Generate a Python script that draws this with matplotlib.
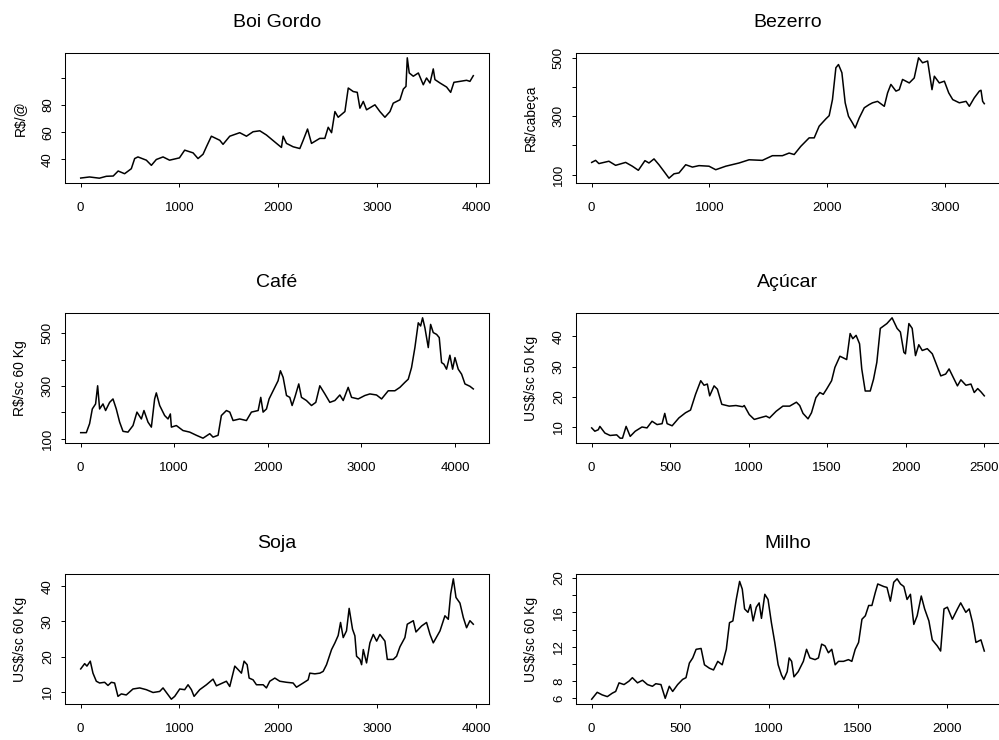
import matplotlib
matplotlib.use("Agg")
import matplotlib.pyplot as plt

plt.rcParams['font.family'] = ['Liberation Sans', 'DejaVu Sans']

# Daily price series (observation index, price)
boi_x = [1, 90, 190, 260, 330, 380, 445, 513, 547, 580, 665, 716, 766, 834, 900, 1000, 1053, 1138, 1188, 1239,
         1273, 1323, 1408, 1441, 1509, 1610, 1678, 1745, 1813, 1880, 1982, 2032, 2049, 2083, 2150, 2218, 2252,
         2296, 2336, 2420, 2471, 2505, 2539, 2573, 2606, 2674, 2708, 2758, 2799, 2826, 2860, 2893, 2978, 3028,
         3079, 3130, 3163, 3231, 3265, 3292, 3305, 3325, 3366, 3417, 3467, 3500, 3535, 3568, 3585, 3636, 3703,
         3744, 3777, 3838, 3905, 3939, 3973]
boi_y = [26.1, 26.9, 26.0, 27.4, 27.6, 31.3, 29.3, 33.0, 40.5, 41.7, 39.3, 35.5, 39.8, 41.7, 39.3, 41.0, 46.7,
         44.7, 40.5, 43.7, 49.2, 57.0, 54.0, 51.0, 57.0, 59.6, 57.0, 60.3, 61.0, 57.9, 51.7, 48.7, 57.0, 51.7,
         49.2, 47.9, 54.0, 62.3, 51.7, 55.4, 55.4, 63.6, 59.6, 75.2, 71.0, 75.2, 92.6, 90.0, 89.4, 77.7, 82.7,
         76.5, 80.2, 75.2, 71.0, 75.2, 81.4, 83.9, 91.8, 93.8, 114.9, 103.7, 101.3, 103.7, 95.0, 100.0, 96.3,
         106.7, 98.8, 96.3, 93.3, 89.4, 96.8, 97.5, 98.3, 97.5, 101.7]

bez_x = [1, 34, 62, 147, 204, 289, 346, 397, 453, 487, 530, 572, 615, 657, 700, 742, 799, 856, 912, 997, 1054,
         1139, 1252, 1337, 1450, 1535, 1620, 1677, 1720, 1776, 1847, 1890, 1932, 1989, 2017, 2045, 2074, 2096,
         2125, 2153, 2181, 2215, 2238, 2272, 2315, 2357, 2385, 2428, 2485, 2513, 2541, 2584, 2612, 2640, 2697,
         2739, 2776, 2810, 2853, 2890, 2910, 2952, 2995, 3032, 3066, 3122, 3179, 3207, 3249, 3292, 3306, 3320,
         3334]
bez_y = [142, 149, 138, 146, 132, 142, 129, 115, 148, 140, 154, 134, 111, 88, 103, 106, 134, 126, 131, 129,
         117, 129, 140, 151, 149, 165, 165, 174, 169, 197, 226, 226, 266, 291, 302, 357, 466, 477, 449, 346,
         300, 277, 260, 294, 329, 340, 346, 351, 334, 380, 409, 386, 391, 426, 414, 431, 500, 483, 489, 391,
         437, 414, 420, 380, 357, 346, 351, 334, 363, 386, 389, 351, 343]

cafe_x = [1, 61, 96, 125, 160, 182, 203, 239, 267, 310, 346, 381, 417, 453, 506, 560, 602, 649, 677, 720, 756,
          791, 809, 845, 898, 934, 959, 970, 1023, 1094, 1166, 1237, 1308, 1380, 1415, 1469, 1504, 1558, 1594,
          1629, 1700, 1772, 1825, 1897, 1925, 1950, 1986, 2014, 2057, 2110, 2135, 2164, 2200, 2235, 2260, 2289,
          2331, 2360, 2413, 2467, 2513, 2556, 2610, 2663, 2717, 2770, 2806, 2859, 2895, 2966, 3037, 3091, 3162,
          3216, 3287, 3358, 3412, 3465, 3501, 3536, 3572, 3608, 3633, 3654, 3679, 3715, 3740, 3768, 3804, 3832,
          3857, 3882, 3910, 3946, 3975, 4000, 4035, 4071, 4107, 4160, 4196]
cafe_y = [123, 123, 157, 213, 232, 301, 213, 232, 207, 238, 251, 213, 163, 128, 125, 150, 201, 175, 207, 163,
          144, 251, 274, 226, 188, 175, 194, 144, 150, 131, 125, 113, 102, 119, 106, 113, 188, 207, 201, 169,
          175, 169, 201, 207, 257, 201, 213, 251, 282, 320, 358, 333, 264, 257, 226, 257, 308, 257, 245, 226,
          238, 301, 270, 238, 245, 266, 245, 295, 257, 251, 264, 270, 266, 251, 282, 282, 295, 314, 326, 370,
          446, 540, 528, 559, 521, 446, 534, 503, 496, 484, 389, 383, 364, 417, 364, 408, 364, 345, 308, 299,
          289]

acu_x = [1, 21, 43, 53, 85, 118, 160, 182, 197, 220, 246, 278, 321, 353, 385, 417, 449, 466, 481, 513, 556,
         598, 630, 662, 695, 716, 737, 752, 780, 801, 829, 876, 919, 962, 972, 1004, 1036, 1069, 1111, 1133,
         1175, 1218, 1261, 1304, 1325, 1346, 1378, 1400, 1428, 1453, 1475, 1496, 1528, 1549, 1581, 1624, 1646,
         1663, 1684, 1706, 1720, 1742, 1774, 1795, 1816, 1838, 1880, 1913, 1945, 1966, 1988, 1998, 2020, 2041,
         2062, 2083, 2105, 2137, 2169, 2190, 2223, 2254, 2276, 2308, 2329, 2351, 2383, 2415, 2436, 2458, 2479,
         2500]
acu_y = [9.7, 8.6, 9.1, 10.2, 8.0, 7.2, 7.4, 6.3, 6.3, 10.2, 6.9, 8.6, 10.0, 9.7, 11.9, 10.8, 11.1, 14.5,
         11.1, 10.4, 13.0, 14.7, 15.6, 20.8, 25.3, 23.8, 24.2, 20.3, 23.6, 22.5, 17.5, 16.9, 17.1, 16.7, 17.1,
         14.1, 12.5, 13.0, 13.6, 13.0, 15.2, 16.9, 16.9, 18.2, 17.1, 14.5, 12.7, 14.7, 19.7, 21.4, 20.8, 22.5,
         25.3, 29.7, 33.4, 32.3, 40.9, 39.2, 40.3, 37.5, 29.2, 21.9, 21.9, 25.8, 31.4, 42.6, 44.2, 46.1, 42.6,
         41.4, 34.7, 34.2, 44.2, 42.6, 33.6, 37.2, 35.3, 35.9, 34.2, 31.4, 26.9, 27.5, 29.2, 25.8, 23.6, 25.6,
         23.8, 24.2, 21.4, 22.7, 21.6, 20.3]

soja_x = [1, 41, 64, 98, 125, 159, 192, 243, 277, 311, 344, 378, 412, 462, 530, 598, 665, 733, 800, 834, 868,
          918, 952, 1003, 1053, 1087, 1121, 1148, 1205, 1273, 1340, 1374, 1475, 1509, 1560, 1594, 1627, 1654,
          1685, 1705, 1745, 1779, 1847, 1880, 1914, 1965, 2015, 2083, 2150, 2184, 2252, 2302, 2319, 2370, 2421,
          2454, 2488, 2539, 2573, 2606, 2630, 2657, 2690, 2717, 2751, 2775, 2792, 2826, 2843, 2860, 2893, 2927,
          2961, 2995, 3028, 3079, 3103, 3163, 3197, 3231, 3281, 3305, 3366, 3393, 3450, 3500, 3535, 3568, 3636,
          3686, 3720, 3744, 3771, 3798, 3838, 3872, 3905, 3939, 3973]
soja_y = [16.5, 18.0, 17.3, 18.7, 15.3, 13.0, 12.5, 12.7, 11.8, 12.7, 12.5, 8.7, 9.4, 9.1, 10.8, 11.1, 10.6,
          9.8, 10.1, 11.1, 9.8, 7.9, 8.7, 10.8, 10.6, 12.0, 10.6, 8.7, 10.6, 12.0, 13.6, 11.7, 13.0, 11.5, 17.3,
          16.3, 15.3, 18.7, 17.7, 13.9, 13.4, 12.0, 12.0, 11.1, 13.0, 13.9, 13.0, 12.7, 12.5, 11.3, 12.5, 13.4,
          15.3, 15.1, 15.3, 15.8, 17.7, 22.0, 23.9, 26.0, 29.7, 25.4, 27.3, 33.7, 27.8, 25.9, 20.1, 19.2, 17.7,
          22.0, 18.2, 23.9, 26.3, 24.4, 26.3, 24.4, 19.2, 19.2, 20.1, 22.8, 25.4, 29.2, 30.2, 27.0, 28.7, 29.7,
          26.3, 23.9, 27.3, 31.6, 30.6, 37.8, 42.1, 36.8, 35.2, 31.1, 28.2, 30.2, 29.2]

milho_x = [1, 32, 60, 89, 117, 136, 155, 183, 211, 230, 259, 287, 315, 343, 362, 391, 415, 438, 457, 485, 513,
           532, 551, 570, 589, 617, 636, 664, 687, 711, 736, 759, 777, 796, 815, 834, 849, 862, 881, 895, 910,
           928, 944, 957, 976, 994, 1013, 1032, 1051, 1070, 1083, 1102, 1113, 1127, 1140, 1164, 1193, 1211,
           1230, 1259, 1278, 1296, 1315, 1334, 1353, 1372, 1391, 1419, 1447, 1466, 1485, 1504, 1523, 1542, 1561,
           1579, 1598, 1612, 1646, 1664, 1683, 1702, 1721, 1740, 1759, 1777, 1796, 1815, 1834, 1857, 1876, 1900,
           1919, 1947, 1966, 1985, 2004, 2032, 2061, 2079, 2108, 2127, 2146, 2165, 2193, 2212]
milho_y = [5.9, 6.7, 6.4, 6.2, 6.6, 6.8, 7.8, 7.6, 8.0, 8.4, 7.8, 8.1, 7.6, 7.4, 7.7, 7.6, 6.0, 7.4, 6.8, 7.6,
           8.2, 8.4, 10.1, 10.7, 11.7, 11.8, 9.9, 9.5, 9.3, 10.3, 9.9, 11.7, 14.8, 15.0, 17.5, 19.6, 18.7, 16.4,
           16.0, 16.9, 15.0, 16.6, 17.1, 15.3, 18.1, 17.5, 14.8, 12.5, 9.9, 8.7, 8.2, 9.1, 10.7, 10.3, 8.5, 9.1,
           10.3, 11.7, 10.7, 10.5, 10.7, 12.3, 12.1, 11.3, 11.7, 9.9, 10.3, 10.3, 10.5, 10.3, 11.7, 12.5, 15.2,
           15.6, 16.8, 16.8, 18.3, 19.3, 19.0, 18.9, 17.3, 19.5, 19.9, 19.3, 19.0, 17.5, 18.1, 14.6, 15.6, 17.9,
           16.4, 15.0, 12.8, 12.1, 11.5, 16.4, 16.6, 15.2, 16.4, 17.1, 16.0, 16.4, 14.8, 12.5, 12.8, 11.5]

titles = ['Boi Gordo', 'Bezerro', 'Café', 'Açúcar', 'Soja', 'Milho']
ylabels = ['R$/@', 'R$/cabeça', 'R$/sc 60 Kg', 'US$/sc 50 Kg', 'US$/sc 60 Kg', 'US$/sc 60 Kg']

# y ticks; labels that would collide are left blank
yticks = [[40, 60, 80, 100], [100, 200, 300, 400, 500], [100, 200, 300, 400, 500],
          [10, 20, 30, 40], [10, 20, 30, 40], [6, 8, 10, 12, 14, 16, 18, 20]]
ytick_labels = [['40', '60', '80', ''], ['100', '', '300', '', '500'], ['100', '', '300', '', '500'],
                ['10', '20', '30', '40'], ['10', '20', '30', '40'],
                ['6', '8', '', '12', '', '16', '', '20']]
xticks = [[0, 1000, 2000, 3000, 4000], [0, 1000, 2000, 3000], [0, 1000, 2000, 3000, 4000],
          [0, 500, 1000, 1500, 2000, 2500], [0, 1000, 2000, 3000, 4000], [0, 500, 1000, 1500, 2000]]

series = [(boi_x, boi_y), (bez_x, bez_y), (cafe_x, cafe_y),
          (acu_x, acu_y), (soja_x, soja_y), (milho_x, milho_y)]

fig = plt.figure(figsize=(9.99, 7.4), dpi=100)

W, H = 999.0, 740.0
col_left = [65, 576]
row_bottom = [183, 443, 704]
box_w, box_h = 424, 130

for i, (x, y) in enumerate(series):
    r, c = divmod(i, 2)
    ax = fig.add_axes([col_left[c] / W, 1 - row_bottom[r] / H, box_w / W, box_h / H])
    ax.plot(x, y, color='black', lw=1.1)
    ax.margins(x=0.04, y=0.04)
    ax.set_xticks(xticks[i])
    ax.set_xticklabels([str(t) for t in xticks[i]])
    ax.set_yticks(yticks[i])
    ax.set_yticklabels(ytick_labels[i], rotation=90, va='center')
    ax.tick_params(axis='both', direction='out', length=3, width=0.7, labelsize=9.5)
    ax.tick_params(axis='x', pad=10.5)
    ax.tick_params(axis='y', pad=5)
    for s in ax.spines.values():
        s.set_linewidth(0.75)
    ax.set_title(titles[i], fontsize=14, pad=19)
    ax.set_ylabel(ylabels[i], fontsize=10)
    ax.yaxis.label.set_va('center')
    ax.yaxis.set_label_coords(-0.106, 0.5)

fig.savefig('out.png', dpi=100, facecolor='white')
